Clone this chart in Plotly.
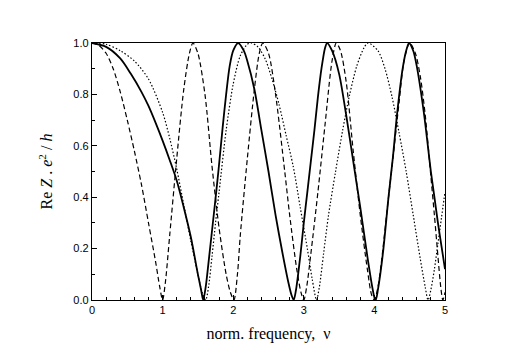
import plotly.graph_objects as go

# solid curve
nu_solid = [0, 0.2, 0.4, 0.55, 0.7, 0.8, 0.9, 1.0, 1.1, 1.2, 1.3, 1.4, 1.5, 1.545, 1.575, 1.61, 1.66, 1.72, 1.79, 1.85, 1.9, 1.95, 2.0, 2.07,
            2.15, 2.2, 2.3, 2.4, 2.5, 2.6, 2.7, 2.78, 2.825, 2.857, 2.89, 2.95, 3.0, 3.05, 3.1, 3.15, 3.2, 3.25, 3.3, 3.33,
            3.4, 3.5, 3.6, 3.7, 3.8, 3.9, 3.97, 4.0, 4.02, 4.05, 4.12, 4.2, 4.26, 4.32, 4.4, 4.45, 4.49,
            4.55, 4.6, 4.7, 4.8, 4.85, 4.9, 4.95, 5.0]
re_solid = [1.0, 0.985, 0.94, 0.88, 0.81, 0.755, 0.69, 0.62, 0.545, 0.465, 0.36, 0.245, 0.1, 0.04, 0.0, 0.05, 0.17, 0.32, 0.5, 0.67, 0.8, 0.91, 0.97, 1.0,
            0.97, 0.93, 0.82, 0.66, 0.5, 0.33, 0.18, 0.07, 0.02, 0.0, 0.04, 0.17, 0.3, 0.42, 0.54, 0.66, 0.79, 0.9, 0.98, 1.0,
            0.97, 0.88, 0.72, 0.54, 0.36, 0.17, 0.05, 0.01, 0.0, 0.04, 0.18, 0.4, 0.55, 0.72, 0.9, 0.97, 1.0,
            0.97, 0.91, 0.73, 0.5, 0.4, 0.3, 0.21, 0.12]

# dashed curve
nu_dash = [0, 0.1, 0.2, 0.3, 0.4, 0.5, 0.6, 0.7, 0.8, 0.9, 0.96, 1.0, 1.04, 1.1, 1.2, 1.3, 1.38, 1.43,
           1.5, 1.6, 1.7, 1.8, 1.9, 1.96, 2.01, 2.06, 2.1, 2.2, 2.3, 2.37, 2.42,
           2.5, 2.6, 2.73, 2.8, 2.9, 2.96, 3.0, 3.04, 3.1, 3.2, 3.3, 3.4, 3.46,
           3.52, 3.6, 3.7, 3.8, 3.9, 3.96, 4.0, 4.05, 4.1, 4.2, 4.27, 4.35, 4.42, 4.5,
           4.58, 4.65, 4.72, 4.8, 4.85, 4.9, 4.94, 4.97, 5.0]
re_dash = [1.0, 0.99, 0.96, 0.9, 0.81, 0.7, 0.58, 0.45, 0.3, 0.15, 0.05, 0.0, 0.07, 0.25, 0.55, 0.82, 0.96, 1.0,
           0.96, 0.8, 0.52, 0.28, 0.1, 0.03, 0.0, 0.1, 0.25, 0.55, 0.82, 0.96, 1.0,
           0.96, 0.8, 0.5, 0.33, 0.12, 0.03, 0.0, 0.05, 0.18, 0.42, 0.68, 0.93, 1.0,
           0.97, 0.85, 0.58, 0.33, 0.12, 0.02, 0.0, 0.05, 0.15, 0.4, 0.57, 0.77, 0.93, 1.0,
           0.96, 0.87, 0.72, 0.48, 0.33, 0.17, 0.05, 0.0, 0.03]

# dotted curve
nu_dot = [0, 0.2, 0.4, 0.6, 0.8, 1.0, 1.1, 1.2, 1.3, 1.4, 1.5, 1.56, 1.61, 1.65, 1.7, 1.75, 1.8, 1.9, 2.0, 2.1, 2.2, 2.26,
          2.35, 2.45, 2.55, 2.65, 2.75, 2.85, 2.95, 3.05, 3.12, 3.18, 3.22, 3.28, 3.35, 3.45, 3.55, 3.65, 3.75, 3.85, 3.91,
          4.05, 4.15, 4.25, 4.35, 4.45, 4.55, 4.65, 4.72, 4.76, 4.8, 4.85, 4.9, 4.95, 5.0]
re_dot = [1.0, 0.995, 0.97, 0.93, 0.86, 0.73, 0.63, 0.51, 0.37, 0.23, 0.1, 0.03, 0.0, 0.05, 0.17, 0.3, 0.42, 0.66, 0.84, 0.95, 0.995, 1.0,
          0.985, 0.94, 0.86, 0.76, 0.64, 0.52, 0.36, 0.2, 0.08, 0.0, 0.05, 0.18, 0.33, 0.5, 0.66, 0.8, 0.91, 0.98, 1.0,
          0.97, 0.9, 0.79, 0.65, 0.5, 0.33, 0.16, 0.05, 0.0, 0.04, 0.12, 0.22, 0.32, 0.42]

x_ticks = [0, 1, 2, 3, 4, 5]
y_ticks = [0.0, 0.2, 0.4, 0.6, 0.8, 1.0]
y_labels = ["0.0", "0.2", "0.4", "0.6", "0.8", "1.0"]

fig = go.Figure()
fig.add_trace(go.Scatter(x=nu_dot, y=re_dot, mode="lines",
                         line=dict(color="black", width=1.2, dash="1.5px,2px", shape="spline", smoothing=0.8)))
fig.add_trace(go.Scatter(x=nu_dash, y=re_dash, mode="lines",
                         line=dict(color="black", width=1.2, dash="5px,3px", shape="spline", smoothing=0.8)))
fig.add_trace(go.Scatter(x=nu_solid, y=re_solid, mode="lines",
                         line=dict(color="black", width=1.8, shape="spline", smoothing=0.8)))

ax = dict(showline=True, linecolor="black", linewidth=1.3, mirror=True, showgrid=False, zeroline=False,
          ticks="inside", ticklen=5, tickcolor="black", tickwidth=1,
          tickfont=dict(family="Liberation Sans, Arial", size=11, color="black"))

# the page body adds 8px, so the margins are shifted to land the box where the reference has it
fig.update_layout(
    width=518, height=361,
    paper_bgcolor="white", plot_bgcolor="white",
    showlegend=False,
    margin=dict(l=84, r=81, t=35, b=69),
    xaxis=dict(range=[0, 5], tickvals=x_ticks,
               minor=dict(dtick=0.2, ticks="inside", ticklen=3, tickcolor="black"),
               title=dict(text="norm. frequency,  ν", standoff=12,
                          font=dict(family="Liberation Serif, Times New Roman", size=16, color="black")),
               **ax),
    yaxis=dict(range=[0, 1], tickvals=y_ticks, ticktext=y_labels,
               minor=dict(dtick=0.1, ticks="inside", ticklen=3, tickcolor="black"),
               title=dict(text="Re <i>Z</i> . <i>e</i><sup>2</sup> / <i>h</i>", standoff=16,
                          font=dict(family="Liberation Serif, Times New Roman", size=16, color="black")),
               **ax),
)

fig.write_html("out.html")
